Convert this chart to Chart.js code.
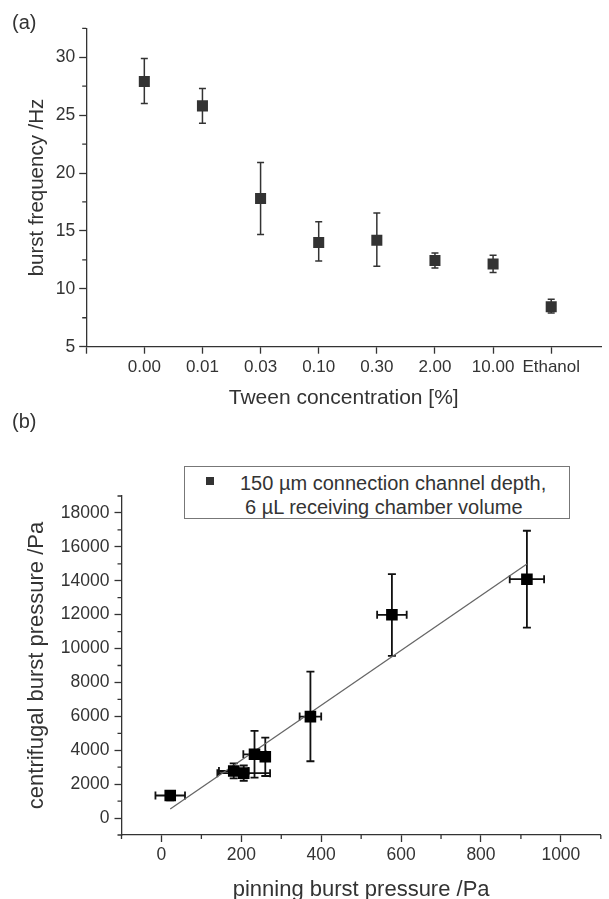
<!DOCTYPE html>
<html>
<head>
<meta charset="utf-8">
<script src="https://cdn.jsdelivr.net/npm/chart.js@4.4.1/dist/chart.umd.min.js"></script>
<style>
  html, body { margin: 0; padding: 0; background: #fff; overflow: hidden; }
  body { width: 609px; height: 899px; position: relative; font-family: "Liberation Sans", Arial, sans-serif; color: #333; }
  #wrapA { position: absolute; left: 0; top: 0; }
  #wrapB { position: absolute; left: 0; top: 420px; }
  .panel { position: absolute; left: 12px; font-size: 20px; line-height: 24px; }
  #legendB { position: absolute; left: 184px; top: 466px; width: 384px; height: 51px; border: 1.3px solid #777; background: #fff; }
  #legendB .mark { position: absolute; left: 21px; top: 10px; width: 8px; height: 8px; background: #333; }
  #legendB .line { position: absolute; font-size: 20px; line-height: 24px; white-space: nowrap; }
</style>
</head>
<body>
<div id="wrapA"><canvas id="chartA" width="609" height="420"></canvas></div>
<div id="wrapB"><canvas id="chartB" width="609" height="490"></canvas></div>
<div class="panel" style="top:10px">(a)</div>
<div class="panel" style="top:409px">(b)</div>
<div id="legendB">
  <div class="mark"></div>
  <div class="line" style="left:55px; top:4px">150 µm connection channel depth,</div>
  <div class="line" style="left:60px; top:28px">6 µL receiving chamber volume</div>
</div>
<script>
// (a) burst frequency vs Tween concentration
var tweenLabels = ['0.00', '0.01', '0.03', '0.10', '0.30', '2.00', '10.00', 'Ethanol'];
var burstFreq = [27.9, 25.8, 17.8, 14.0, 14.2, 12.45, 12.15, 8.45];
var burstFreqHigh = [29.9, 27.3, 20.9, 15.8, 16.55, 13.1, 12.9, 9.1];
var burstFreqLow = [26.0, 24.3, 14.7, 12.4, 11.95, 11.8, 11.4, 7.9];
var freqTicks = [5, 10, 15, 20, 25, 30];
var freqMinorTicks = [7.5, 12.5, 17.5, 22.5, 27.5, 32.5];

// (b) centrifugal vs pinning burst pressure
var pinningPressure = [22, 181, 206, 233, 260, 373, 577, 915];
var pinningErr = [37, 37, 66, 28, 10, 27, 37, 43];
var centrifugalPressure = [1330, 2776, 2650, 3760, 3620, 5985, 11990, 14090];
var centrifugalHigh = [1600, 3230, 3100, 5140, 4745, 8640, 14390, 16950];
var centrifugalLow = [1050, 2340, 2200, 2380, 2480, 3350, 9570, 11240];
var fitPinning = [22, 915];
var fitCentrifugal = [530, 14990];
var pinningTicks = [0, 200, 400, 600, 800, 1000];
var pinningMinorTicks = [-100, 100, 300, 500, 700, 900, 1100];
var centrifugalTicks = [0, 2000, 4000, 6000, 8000, 10000, 12000, 14000, 16000, 18000];
var centrifugalMinorTicks = [-1000, 1000, 3000, 5000, 7000, 9000, 11000, 13000, 15000, 17000, 19000];

var axisColor = '#333';
var fontFamily = '"Liberation Sans", Arial, sans-serif';

function minorTickPlugin(xMinor, yMinor) {
	return {
		id: 'minorTicks',
		afterDraw: function(chart) {
			var ctx = chart.ctx;
			var xs = chart.scales.x, ys = chart.scales.y;
			ctx.save();
			ctx.strokeStyle = axisColor;
			ctx.lineWidth = 1.3;
			ctx.beginPath();
			xMinor.forEach(function(v){
				var px = xs.getPixelForValue(v);
				ctx.moveTo(px, xs.top);
				ctx.lineTo(px, xs.top + 4);
			});
			yMinor.forEach(function(v){
				var py = ys.getPixelForValue(v);
				ctx.moveTo(ys.right, py);
				ctx.lineTo(ys.right - 4, py);
			});
			ctx.stroke();
			ctx.restore();
		}
	};
}

function baseScale(fontSize) {
	return {
		border: { color: axisColor, width: 1.3 },
		grid: { drawOnChartArea: false, drawTicks: true, tickLength: 7, tickColor: axisColor, tickWidth: 1.3 },
		ticks: { color: '#333', font: { family: fontFamily, size: fontSize }, autoSkip: false, maxRotation: 0,
			callback: function(value){ return String(value); } }
	};
}

// ---------- chart (a) ----------
var xA = baseScale(17);
xA.type = 'linear';
xA.min = -1;
xA.max = 7.86;
xA.ticks.padding = 3;
xA.ticks.callback = function(value){ return tweenLabels[value] !== undefined ? tweenLabels[value] : ''; };
xA.afterBuildTicks = function(scale){
	scale.ticks = [-1].concat(tweenLabels.map(function(l, i){ return i; })).map(function(v){ return {value: v}; });
};
xA.afterFit = function(scale){ scale.height = 420 - 346.7; };
xA.title = { display: true, text: 'Tween concentration [%]', color: '#333', font: { family: fontFamily, size: 21 }, padding: { top: 0, bottom: 9.4 } };

var yA = baseScale(17.5);
yA.min = 5;
yA.max = 32.5;
yA.ticks.padding = 4;
yA.afterBuildTicks = function(scale){ scale.ticks = freqTicks.map(function(v){ return {value: v}; }); };
yA.afterFit = function(scale){ scale.width = 86.2; };
yA.title = { display: true, text: 'burst frequency /Hz', color: '#333', font: { family: fontFamily, size: 20.5 }, padding: { top: 24.7, bottom: 0 } };

new Chart(document.getElementById('chartA'), {
	type: 'scatter',
	data: {
		datasets: [{
			data: burstFreq.map(function(v, i){ return {x: i, y: v}; }),
			pointStyle: 'rect',
			pointRadius: 7.8,
			backgroundColor: '#333',
			borderColor: '#333',
			borderWidth: 0
		}]
	},
	options: {
		responsive: false,
		animation: false,
		events: [],
		layout: { padding: { top: 28.3, right: 0, left: 0, bottom: 0 } },
		plugins: { legend: { display: false }, tooltip: { enabled: false } },
		scales: { x: xA, y: yA }
	},
	plugins: [minorTickPlugin([], freqMinorTicks), {
		id: 'errA',
		beforeDatasetsDraw: function(chart){
			var ctx = chart.ctx, xs = chart.scales.x, ys = chart.scales.y;
			ctx.save();
			ctx.strokeStyle = '#333';
			ctx.lineWidth = 1.5;
			ctx.beginPath();
			burstFreq.forEach(function(v, i){
				var px = xs.getPixelForValue(i);
				var hi = ys.getPixelForValue(burstFreqHigh[i]);
				var lo = ys.getPixelForValue(burstFreqLow[i]);
				ctx.moveTo(px, hi); ctx.lineTo(px, lo);
				ctx.moveTo(px - 3.5, hi); ctx.lineTo(px + 3.5, hi);
				ctx.moveTo(px - 3.5, lo); ctx.lineTo(px + 3.5, lo);
			});
			ctx.stroke();
			ctx.restore();
		}
	}]
});

// ---------- chart (b) ----------
var xB = baseScale(17.5);
xB.min = -100;
xB.max = 1100;
xB.ticks.padding = 3;
xB.afterBuildTicks = function(scale){ scale.ticks = pinningTicks.map(function(v){ return {value: v}; }); };
xB.afterFit = function(scale){ scale.height = 490 - 415; };
xB.title = { display: true, text: 'pinning burst pressure /Pa', color: '#333', font: { family: fontFamily, size: 22 }, padding: { top: 0, bottom: 6.8 } };

var yB = baseScale(17.5);
yB.min = -1000;
yB.max = 19000;
yB.ticks.padding = 5;
yB.afterBuildTicks = function(scale){ scale.ticks = centrifugalTicks.map(function(v){ return {value: v}; }); };
yB.afterFit = function(scale){ scale.width = 121.5; };
yB.title = { display: true, text: 'centrifugal burst pressure /Pa', color: '#333', font: { family: fontFamily, size: 22 }, padding: { top: 23.5, bottom: 0 } };

new Chart(document.getElementById('chartB'), {
	type: 'scatter',
	data: {
		datasets: [{
			data: centrifugalPressure.map(function(v, i){ return {x: pinningPressure[i], y: v}; }),
			pointStyle: 'rect',
			pointRadius: 8.2,
			backgroundColor: '#000',
			borderColor: '#000',
			borderWidth: 0
		}, {
			data: fitCentrifugal.map(function(v, i){ return {x: fitPinning[i], y: v}; }),
			showLine: true,
			pointRadius: 0,
			borderColor: '#666',
			borderWidth: 1.3
		}]
	},
	options: {
		responsive: false,
		animation: false,
		events: [],
		layout: { padding: { top: 76, right: 2.4, left: 0, bottom: 0 } },
		plugins: { legend: { display: false }, tooltip: { enabled: false } },
		scales: { x: xB, y: yB }
	},
	plugins: [minorTickPlugin(pinningMinorTicks, centrifugalMinorTicks), {
		id: 'errB',
		beforeDatasetsDraw: function(chart){
			var ctx = chart.ctx, xs = chart.scales.x, ys = chart.scales.y;
			ctx.save();
			ctx.strokeStyle = '#111';
			ctx.lineWidth = 1.8;
			ctx.beginPath();
			centrifugalPressure.forEach(function(v, i){
				var px = xs.getPixelForValue(pinningPressure[i]);
				var py = ys.getPixelForValue(v);
				var hi = ys.getPixelForValue(centrifugalHigh[i]);
				var lo = ys.getPixelForValue(centrifugalLow[i]);
				var l = xs.getPixelForValue(pinningPressure[i] - pinningErr[i]);
				var r = xs.getPixelForValue(pinningPressure[i] + pinningErr[i]);
				ctx.moveTo(px, hi); ctx.lineTo(px, lo);
				ctx.moveTo(px - 4, hi); ctx.lineTo(px + 4, hi);
				ctx.moveTo(px - 4, lo); ctx.lineTo(px + 4, lo);
				ctx.moveTo(l, py); ctx.lineTo(r, py);
				ctx.moveTo(l, py - 4); ctx.lineTo(l, py + 4);
				ctx.moveTo(r, py - 4); ctx.lineTo(r, py + 4);
			});
			ctx.stroke();
			ctx.restore();
		}
	}]
});
</script>
</body>
</html>
